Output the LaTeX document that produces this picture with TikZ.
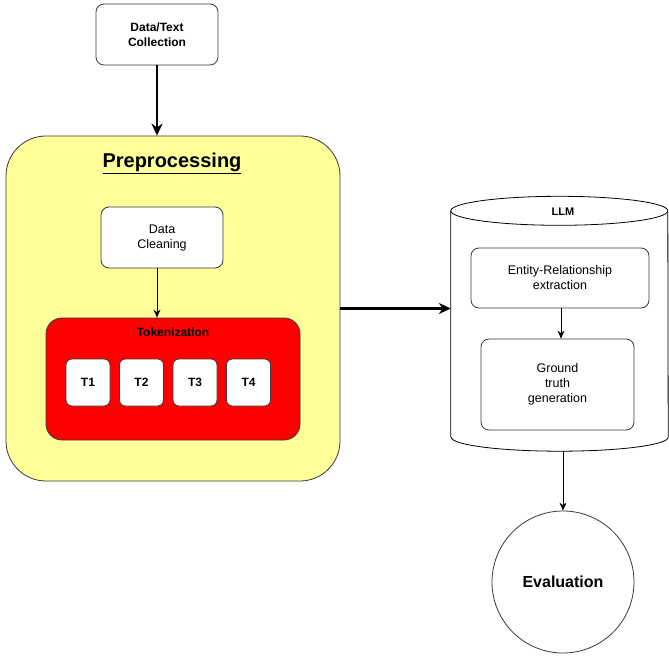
\documentclass[tikz,border=0pt]{standalone}
\usepackage{fontspec}
\setmainfont{Liberation Sans}
\usetikzlibrary{arrows.meta,calc}

\definecolor{prefill}{HTML}{FFFF99}
\definecolor{tokfill}{HTML}{FF0000}
\definecolor{boxline}{HTML}{36393D}

\begin{document}
\begin{tikzpicture}[x=1pt,y=-1pt,
  box/.style={draw=boxline,fill=white,rounded corners=8pt,line width=0.8pt,
    align=center,inner sep=0pt,font=\fontsize{12.5}{15}\selectfont},
  tbox/.style={box,minimum width=44pt,minimum height=47pt,rounded corners=6pt,
    font=\fontsize{12}{15}\selectfont\bfseries},
  thinarrow/.style={-{Stealth[length=8pt,width=7pt]},line width=0.8pt},
  thickarrow/.style={-{Stealth[length=12pt,width=11pt]},line width=2.4pt}]
\useasboundingbox (0,0) rectangle (669,660);

% input
\node[box,minimum width=122pt,minimum height=61pt,font=\fontsize{12}{15}\selectfont\bfseries]
  (collect) at (157,34.5) {Data/Text\\Collection};

% preprocessing block
\node[draw=boxline,fill=prefill,rounded corners=40pt,line width=0.8pt,
  minimum width=334pt,minimum height=345pt] (pre) at (173,308.5) {};
\node[font=\fontsize{20}{24}\selectfont\bfseries] (pretitle) at (172,163) {\underline{Preprocessing}};
\node[box,minimum width=122pt,minimum height=61pt] (clean) at (162,237.5) {Data\\Cleaning};
\node[draw=boxline,fill=tokfill,rounded corners=16pt,line width=0.8pt,
  minimum width=254pt,minimum height=122pt] (tok) at (173,379) {};
\node[font=\fontsize{12}{15}\selectfont\bfseries] (toktitle) at (173,332) {Tokenization};
\foreach \i/\x in {1/88,2/141.5,3/195,4/248.5}
  \node[tbox] (t\i) at (\x,382.5) {T\i};

% LLM cylinder
\node[minimum width=217pt,minimum height=226pt,inner sep=0pt] (llm) at (559.5,324) {};
\draw[line width=0.8pt,fill=white] (llm.south west) -- (llm.north west)
  arc[start angle=180,end angle=0,x radius=108.5pt,y radius=14.5pt]
  -- (llm.south east)
  arc[start angle=0,end angle=-180,x radius=108.5pt,y radius=14pt];
\draw[line width=0.8pt] (llm.north west)
  arc[start angle=180,end angle=360,x radius=108.5pt,y radius=14.5pt];
\coordinate (llmbot) at ($(llm.south)+(0,14)$);
\node[font=\fontsize{11}{14}\selectfont\bfseries] (llmtitle) at (563,212) {LLM};
\node[box,minimum width=178pt,minimum height=60pt] (er) at (560,278) {Entity-Relationship\\extraction};
\node[box,minimum width=153pt,minimum height=91pt] (gt) at (557.5,384.5) {Ground\\truth\\generation};

% evaluation
\node[circle,draw=boxline,line width=0.8pt,minimum size=142pt,inner sep=0pt,
  font=\fontsize{16}{19}\selectfont\bfseries] (eval) at (563,582) {Evaluation};

% connectors
\draw[thickarrow] (collect.south) -- (pre.north -| collect.south);
\draw[thinarrow] ([xshift=-5pt]clean.south) -- ([xshift=-5pt]clean.south |- tok.north);
\draw[thickarrow] (pre.east) -- (pre.east -| llm.west);
\draw[thinarrow] (er.south -| 561,0) -- (gt.north -| 561,0);
\draw[thinarrow] (eval.north |- llmbot) -- (eval.north);
\end{tikzpicture}
\end{document}
